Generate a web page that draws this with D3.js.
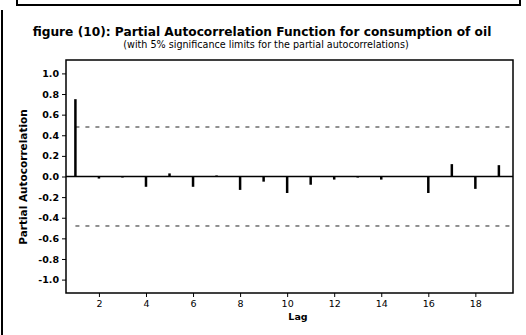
<!DOCTYPE html>
<html>
<head>
<meta charset="utf-8">
<script src="https://cdn.jsdelivr.net/npm/d3@7"></script>
<style>
  body { margin: 0; background: #fff; }
  svg { display: block; font-family: 'DejaVu Sans', Verdana, sans-serif; }
</style>
</head>
<body>
<div id="chart"></div>
<script>
const W = 526;
const H = 335;

// lags and PACF values
const lags = [1, 2, 3, 4, 5, 6, 7, 8, 9, 10, 11, 12, 13, 14, 15, 16, 17, 18, 19];
const pacf = [0.75, -0.02, -0.01, -0.10, 0.03, -0.10, 0.01, -0.13, -0.05, -0.16,
  -0.08, -0.03, -0.01, -0.03, 0.00, -0.16, 0.12, -0.12, 0.11];
const limit = 0.48;
const yTicks = [1.0, 0.8, 0.6, 0.4, 0.2, 0.0, -0.2, -0.4, -0.6, -0.8, -1.0];
const xTicks = [2, 4, 6, 8, 10, 12, 14, 16, 18];
const title = 'figure (10): Partial Autocorrelation Function for consumption of oil';
const subtitle = '(with 5% significance limits for the partial autocorrelations)';

const margin = { top: 60, right: 13, bottom: 42, left: 66 };
const pw = W - margin.left - margin.right;
const ph = H - margin.top - margin.bottom;

const svg = d3.select('#chart').append('svg')
  .attr('width', W)
  .attr('height', H);

// scan frame bits
svg.append('path')
  .attr('d', 'M17,0 L17,5 L520,5 L520,0')
  .attr('fill', 'none')
  .attr('stroke', '#000')
  .attr('stroke-width', 2);
svg.append('line')
  .attr('x1', 2).attr('x2', 2)
  .attr('y1', 10).attr('y2', H)
  .attr('stroke', '#000')
  .attr('stroke-width', 2);

svg.append('text')
  .attr('x', 262).attr('y', 36)
  .attr('text-anchor', 'middle')
  .attr('font-size', 12.2)
  .attr('font-weight', 'bold')
  .text(title);
svg.append('text')
  .attr('x', 266).attr('y', 48)
  .attr('text-anchor', 'middle')
  .attr('font-size', 9.6)
  .text(subtitle);

const g = svg.append('g')
  .attr('transform', `translate(${margin.left}, ${margin.top})`);

const x = d3.scaleLinear().domain([0.6, 19.6]).range([0, pw]);
const y = d3.scaleLinear().domain([-1.13, 1.13]).range([ph, 0]);

// significance limits
g.selectAll('.limit')
  .data([limit, -limit])
  .join('line')
  .attr('class', 'limit')
  .attr('x1', x(1)).attr('x2', pw)
  .attr('y1', (d) => y(d)).attr('y2', (d) => y(d))
  .attr('stroke', '#222')
  .attr('stroke-width', 1)
  .attr('stroke-dasharray', '4,6');

// zero line
g.append('line')
  .attr('x1', 0).attr('x2', pw)
  .attr('y1', y(0)).attr('y2', y(0))
  .attr('stroke', '#000')
  .attr('stroke-width', 1.5);

// spikes
g.selectAll('.spike')
  .data(lags)
  .join('line')
  .attr('class', 'spike')
  .attr('x1', (d) => x(d)).attr('x2', (d) => x(d))
  .attr('y1', y(0))
  .attr('y2', (d, i) => y(pacf[i]))
  .attr('stroke', '#000')
  .attr('stroke-width', 2.5);

// frame
g.append('rect')
  .attr('width', pw).attr('height', ph)
  .attr('fill', 'none')
  .attr('stroke', '#000')
  .attr('stroke-width', 1.5);

const yAxis = g.append('g')
  .call(d3.axisLeft(y).tickValues(yTicks).tickSize(4).tickSizeOuter(0));
yAxis.select('.domain').remove();
yAxis.selectAll('text')
  .attr('font-size', 9.5)
  .attr('font-weight', 'bold')
  .attr('font-family', 'DejaVu Sans, sans-serif')
  .text((d) => d3.format('.1f')(d).replace('−', '-'));

const xAxis = g.append('g')
  .attr('transform', `translate(0, ${ph})`)
  .call(d3.axisBottom(x).tickValues(xTicks).tickSize(4).tickSizeOuter(0));
xAxis.select('.domain').remove();
xAxis.selectAll('text')
  .attr('font-size', 9.5)
  .attr('font-family', 'DejaVu Sans, sans-serif');

svg.append('text')
  .attr('transform', `translate(27, 177) rotate(-90)`)
  .attr('text-anchor', 'middle')
  .attr('font-size', 10.5)
  .attr('font-weight', 'bold')
  .text('Partial Autocorrelation');

svg.append('text')
  .attr('x', 298).attr('y', 320)
  .attr('text-anchor', 'middle')
  .attr('font-size', 9.5)
  .attr('font-weight', 'bold')
  .text('Lag');
</script>
</body>
</html>
